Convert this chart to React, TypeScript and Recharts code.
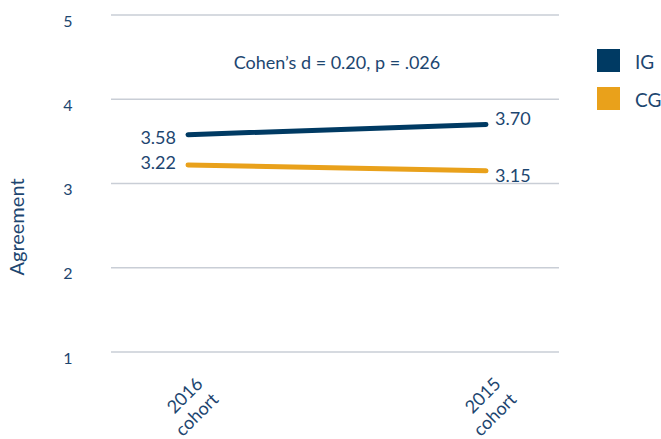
import React from 'react';
import { LineChart, Line, XAxis, YAxis, CartesianGrid, Legend, LabelList, Customized } from 'recharts';

const categories = ['2016 cohort', '2015 cohort'];
const igValues = [3.58, 3.70];
const cgValues = [3.22, 3.15];
const yTicks = [1, 2, 3, 4, 5];
const seriesOrder = ['IG', 'CG'];
const annotation = 'Cohen\u2019s d = 0.20, p = .026';
const yLabel = 'Agreement';

const data = categories.map((c, i) => ({ cat: c, IG: igValues[i], CG: cgValues[i] }));

const FONT = 'Lato, "Open Sans", sans-serif';
const TEXT = '#1d4670';
const IG_COLOR = '#003a63';
const CG_COLOR = '#e9a11b';

const YTick = (props: any) => {
  const { y, payload } = props;
  return (
    <text x={68} y={y + 5} textAnchor="middle" dominantBaseline="central" fill={TEXT} fontSize={16} fontFamily={FONT}>
      {payload.value}
    </text>
  );
};

const XTick = (props: any) => {
  const { x, y, payload } = props;
  const parts = String(payload.value).split(' ');
  return (
    <g transform={`translate(${x + 16},${y + 25})`}>
      <text transform="rotate(-45)" textAnchor="end" fill={TEXT} fontSize={18} fontFamily={FONT}>
        {parts.map((p, i) => (
          <tspan key={i} x={0} dy={i === 0 ? 0 : 22}>{p}</tspan>
        ))}
      </text>
    </g>
  );
};

const makeLabel = (key: string) => (props: any) => {
  const { x, y, value, index } = props;
  const left = index === 0;
  let dy = 0;
  if (!left) dy = key === 'IG' ? -7 : 4;
  else dy = key === 'IG' ? 2 : -3;
  return (
    <text
      x={left ? x - 12 : x + 9}
      y={y + dy}
      textAnchor={left ? 'end' : 'start'}
      dominantBaseline="central"
      fill={TEXT}
      fontSize={18}
      fontFamily={FONT}
    >
      {Number(value).toFixed(2)}
    </text>
  );
};

const LegendContent = (props: any) => {
  const { payload } = props;
  const items = [...(payload || [])].sort(
    (a: any, b: any) => seriesOrder.indexOf(a.value) - seriesOrder.indexOf(b.value)
  );
  return (
    <svg width={64} height={64} style={{ overflow: 'visible', display: 'block' }}>
      {items.map((p: any, i: number) => (
        <g key={p.value} transform={`translate(0,${i * 38})`}>
          <rect x={0} y={0} width={23} height={23} fill={p.color} />
          <text x={38} y={12} dominantBaseline="central" fill={TEXT} fontSize={19} fontFamily={FONT}>
            {p.value}
          </text>
        </g>
      ))}
    </svg>
  );
};

const Annotation = () => (
  <text x={337} y={62} textAnchor="middle" dominantBaseline="central" fill={TEXT} fontSize={18} fontFamily={FONT}>
    {annotation}
  </text>
);

const AxisTitle = () => (
  <text
    transform="translate(16,227) rotate(-90)"
    textAnchor="middle"
    dominantBaseline="central"
    fill={TEXT}
    fontSize={20}
    fontFamily={FONT}
  >
    {yLabel}
  </text>
);

export default function App() {
  return (
    <div style={{ position: 'absolute', left: 0, top: 0, width: 661, height: 439, background: '#fff' }}>
      <LineChart width={661} height={439} data={data} margin={{ top: 15, right: 102, left: 0, bottom: 0 }}>
        <CartesianGrid vertical={false} stroke="#c9ced6" strokeWidth={1.5} />
        <XAxis
          dataKey="cat"
          type="category"
          padding={{ left: 77, right: 73 }}
          axisLine={false}
          tickLine={false}
          height={87}
          tick={<XTick />}
          interval={0}
        />
        <YAxis
          domain={[1, 5]}
          ticks={yTicks}
          width={111}
          axisLine={false}
          tickLine={false}
          tick={<YTick />}
        />
        <Legend
          layout="horizontal"
          align="center"
          verticalAlign="middle"
          content={<LegendContent />}
          wrapperStyle={{ position: 'absolute', left: 597, top: 49, width: 64, height: 64 }}
        />
        <Line dataKey="IG" name="IG" stroke={IG_COLOR} strokeWidth={5} strokeLinecap="round" dot={false} activeDot={false} isAnimationActive={false}>
          <LabelList dataKey="IG" content={makeLabel('IG')} />
        </Line>
        <Line dataKey="CG" name="CG" stroke={CG_COLOR} strokeWidth={5} strokeLinecap="round" dot={false} activeDot={false} isAnimationActive={false}>
          <LabelList dataKey="CG" content={makeLabel('CG')} />
        </Line>
        <Customized component={Annotation} />
        <Customized component={AxisTitle} />
      </LineChart>
    </div>
  );
}
